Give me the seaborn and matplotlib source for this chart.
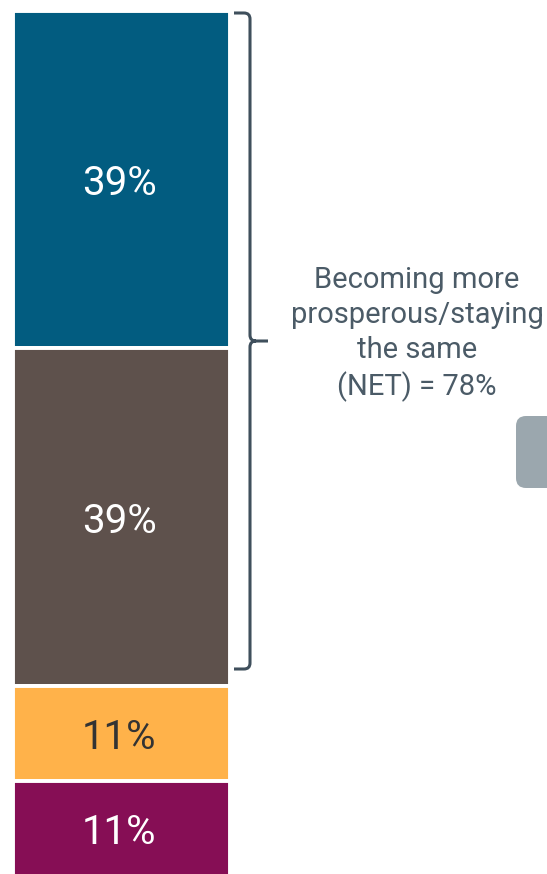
import matplotlib
matplotlib.use("Agg")
import matplotlib.pyplot as plt
from matplotlib.path import Path
from matplotlib.patches import PathPatch, FancyBboxPatch
import seaborn as sns
import pandas as pd

# Outlook segments, top to bottom
segments = ["Becoming more prosperous", "Staying the same", "Becoming less prosperous", "Don't know"]
shares = [39, 39, 11, 11]
colors = ["#025c80", "#5e514c", "#ffb24a", "#860e55"]
label_colors = ["white", "white", "#333333", "white"]
net_label = "Becoming more\nprosperous/staying\nthe same\n(NET) = 78%"

sns.set_theme(style="white")
plt.rcParams["font.family"] = ["Roboto", "DejaVu Sans"]

W, H = 547, 874
fig = plt.figure(figsize=(W / 100, H / 100), dpi=100)

# Stacked bar axes (pixel placement of the bar column, white edges included)
bar_left, bar_right, bar_top, bar_bottom = 13, 230, 11, 876
ax = fig.add_axes([bar_left / W, (H - bar_bottom) / H,
                   (bar_right - bar_left) / W, (bar_bottom - bar_top) / H])

bottoms = [sum(shares[:i]) for i in range(len(shares))]
df = pd.DataFrame({"group": ["All"] * len(shares), "share": shares,
                   "bottom": bottoms, "segment": segments})
for i, row in df.iterrows():
    sns.barplot(data=df.iloc[[i]], x="group", y="share", bottom=row["bottom"],
                color=colors[i], width=1.0, edgecolor="white", linewidth=2.8,
                saturation=1, ax=ax)
    ax.text(-0.01, row["bottom"] + row["share"] / 2, f"{row['share']}%",
            ha="center", va="center_baseline", fontsize=29, color=label_colors[i])

ax.set_xlim(-0.5, 0.5)
ax.set_ylim(100, 0)
ax.axis("off")

# Overlay in pixel coordinates for the bracket and annotation
ov = fig.add_axes([0, 0, 1, 1], zorder=3)
ov.set_xlim(0, W)
ov.set_ylim(H, 0)
ov.axis("off")

bc = "#3f4f5c"
x0, xv, xt = 234, 250, 268
y_top, y_mid, y_bot = 13, 341, 669
r = 6
verts = [
    (x0, y_top), (xv - r, y_top), (xv, y_top), (xv, y_top + r),
    (xv, y_mid - r), (xv, y_mid), (xv + r, y_mid),
    (xt, y_mid), (xv + r, y_mid), (xv, y_mid), (xv, y_mid + r),
    (xv, y_bot - r), (xv, y_bot), (xv - r, y_bot), (x0, y_bot),
]
codes = [Path.MOVETO, Path.LINETO, Path.CURVE3, Path.CURVE3,
         Path.LINETO, Path.CURVE3, Path.CURVE3,
         Path.LINETO, Path.MOVETO, Path.CURVE3, Path.CURVE3,
         Path.LINETO, Path.CURVE3, Path.CURVE3, Path.LINETO]
ov.add_patch(PathPatch(Path(verts, codes), fill=False, edgecolor=bc, lw=2.2,
                       capstyle="butt", joinstyle="round"))

ov.text(417, 334, net_label, ha="center", va="center", fontsize=21,
        color="#4b5b67", linespacing=1.3)

# Partially visible grey button at the right edge
ov.add_patch(FancyBboxPatch((516, 416), 60, 72, boxstyle="round,pad=0,rounding_size=10",
                            facecolor="#9ba7ae", edgecolor="none", clip_on=False))

fig.savefig("out.png", dpi=100)
